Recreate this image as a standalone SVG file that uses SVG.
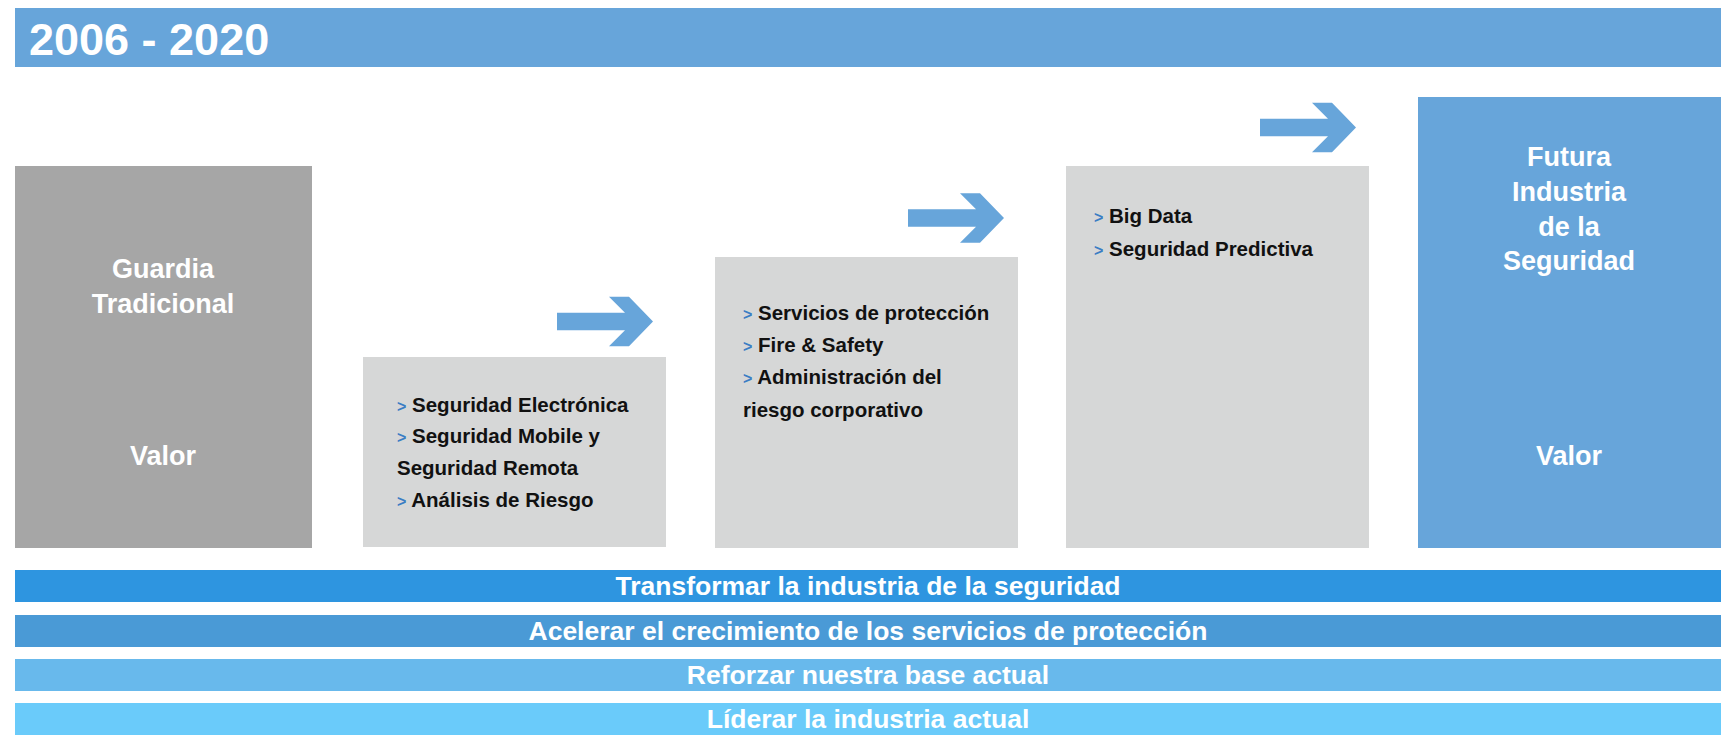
<svg xmlns="http://www.w3.org/2000/svg" width="1724" height="739" viewBox="0 0 1724 739">
<style>
text{font-family:"Liberation Sans",Arial,sans-serif;font-weight:bold}
.w{fill:#ffffff}
.big{font-size:27px}
.item{font-size:20.5px;fill:#111111}
.b{fill:#3b7dc4;font-size:16px}
.bar{font-size:26.5px;fill:#ffffff}
.arrow{fill:#67a5da}
</style>
<defs>
<path id="arr" d="M0,-8.8 H68 L52,-24.8 H72 L96,0 L72,24.8 H52 L68,8.8 H0 Z"/>
</defs>
<rect x="0" y="0" width="1724" height="739" fill="#ffffff"/>
<g id="title">
<rect x="15" y="8" width="1706" height="59" fill="#67a5da"/>
<text x="29" y="55" class="w" font-size="45">2006 - 2020</text>
</g>
<g id="node-guardia">
<rect x="15" y="166" width="297" height="382" fill="#a6a6a6"/>
<text x="163" y="278" class="w big" text-anchor="middle">Guardia</text>
<text x="163" y="313" class="w big" text-anchor="middle">Tradicional</text>
<text x="163" y="465" class="w big" text-anchor="middle">Valor</text>
</g>
<g id="node-electronica">
<rect x="363" y="357" width="303" height="190" fill="#d6d7d7"/>
<text class="item"><tspan x="397" y="412"><tspan class="b">&gt;</tspan> Seguridad Electrónica</tspan><tspan x="397" y="443"><tspan class="b">&gt;</tspan> Seguridad Mobile y</tspan><tspan x="397" y="475">Seguridad Remota</tspan><tspan x="397" y="507"><tspan class="b">&gt;</tspan> Análisis de Riesgo</tspan></text>
</g>
<g id="node-proteccion">
<rect x="715" y="257" width="303" height="291" fill="#d6d7d7"/>
<text class="item"><tspan x="743" y="320"><tspan class="b">&gt;</tspan> Servicios de protección</tspan><tspan x="743" y="352"><tspan class="b">&gt;</tspan> Fire &amp; Safety</tspan><tspan x="743" y="384"><tspan class="b">&gt;</tspan> Administración del</tspan><tspan x="743" y="417">riesgo corporativo</tspan></text>
</g>
<g id="node-bigdata">
<rect x="1066" y="166" width="303" height="382" fill="#d6d7d7"/>
<text class="item"><tspan x="1094" y="223"><tspan class="b">&gt;</tspan> Big Data</tspan><tspan x="1094" y="256"><tspan class="b">&gt;</tspan> Seguridad Predictiva</tspan></text>
</g>
<g id="node-futura">
<rect x="1418" y="97" width="303" height="451" fill="#67a5da"/>
<text x="1569" y="166" class="w big" text-anchor="middle">Futura</text>
<text x="1569" y="201" class="w big" text-anchor="middle">Industria</text>
<text x="1569" y="236" class="w big" text-anchor="middle">de la</text>
<text x="1569" y="270" class="w big" text-anchor="middle">Seguridad</text>
<text x="1569" y="465" class="w big" text-anchor="middle">Valor</text>
</g>
<g id="connectors">
<use href="#arr" class="arrow" transform="translate(557,321.5)"/>
<use href="#arr" class="arrow" transform="translate(908,218)"/>
<use href="#arr" class="arrow" transform="translate(1260,127.5)"/>
</g>
<g id="bar-1">
<rect x="15" y="570" width="1706" height="32" fill="#2e95e0"/>
<text x="868" y="595" class="bar" text-anchor="middle">Transformar la industria de la seguridad</text>
</g>
<g id="bar-2">
<rect x="15" y="615" width="1706" height="32" fill="#4a9ad6"/>
<text x="868" y="640" class="bar" text-anchor="middle">Acelerar el crecimiento de los servicios de protección</text>
</g>
<g id="bar-3">
<rect x="15" y="659" width="1706" height="32" fill="#68b9ec"/>
<text x="868" y="684" class="bar" text-anchor="middle">Reforzar nuestra base actual</text>
</g>
<g id="bar-4">
<rect x="15" y="703" width="1706" height="32" fill="#6acbfa"/>
<text x="868" y="728" class="bar" text-anchor="middle">Líderar la industria actual</text>
</g>
</svg>
